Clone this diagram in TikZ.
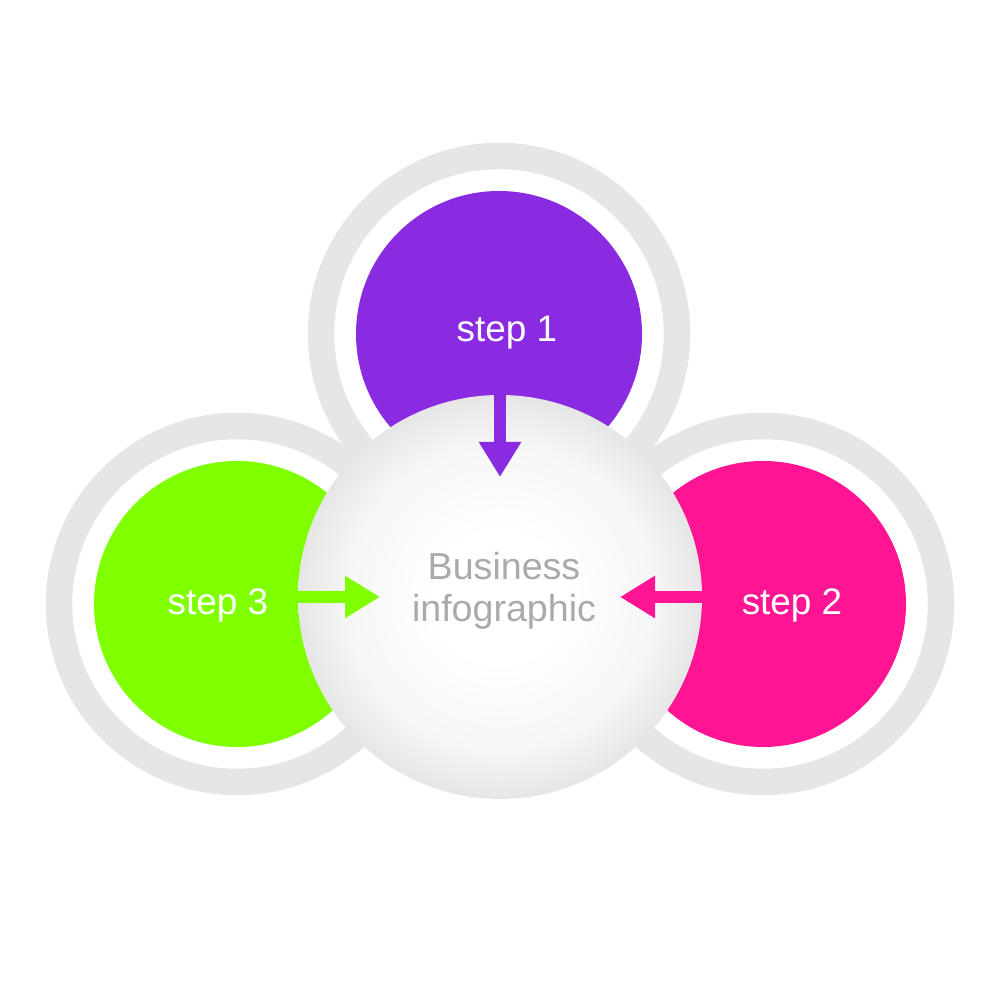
\documentclass[tikz,border=0pt]{standalone}
\usepackage{fontspec}
\setmainfont{Liberation Sans}
\usetikzlibrary{arrows.meta}

\definecolor{stepviolet}{HTML}{8A2BE2}
\definecolor{steplime}{HTML}{7FFF00}
\definecolor{steppink}{HTML}{FF1493}
\definecolor{ringgray}{HTML}{E6E6E6}
\definecolor{hubgray}{HTML}{E6E6E6}
\definecolor{hubmid}{HTML}{F6F6F6}
\definecolor{hubtext}{HTML}{AAAAAA}

\pgfdeclareradialshading{hubshade}{\pgfpoint{0bp}{0bp}}{color(0bp)=(white); color(8bp)=(white); color(19bp)=(hubmid); color(25bp)=(hubgray); color(50bp)=(hubgray)}

\tikzset{
    ring/.style={draw=ringgray, line width=2.65mm, circle, minimum size=3.56cm, inner sep=0pt},
    disc/.style={circle, fill=#1, minimum size=2.86cm, inner sep=0pt},
    steplabel/.style={text=white, font=\fontsize{10.5}{12}\selectfont, anchor=base},
    feed/.style={-{Triangle[length=3.5mm,width=4mm]}, line width=1.2mm, draw=#1},
}

\begin{document}
\begin{tikzpicture}
        \useasboundingbox (0,0) rectangle (10,10);
        \fill[white] (0,0) rectangle (10,10);

        % outer rings
        \node[ring] (r1) at (4.99,6.66) {};
        \node[ring] (r2) at (7.63,3.96) {};
        \node[ring] (r3) at (2.37,3.96) {};

        % coloured discs
        \node[disc=stepviolet] (s1) at (r1) {};
        \node[disc=steppink] (s2) at (r2) {};
        \node[disc=steplime] (s3) at (r3) {};

        % centre
        \node[circle, minimum size=4.04cm, inner sep=0pt, shade, shading=hubshade] (hub) at (5,4.03) {};
        \node[text=hubtext, font=\fontsize{10.7}{12}\selectfont, align=center] (title) at (5.04,4.095) {Business\\infographic};

        \coordinate (t1) at (5,5.23);
        \coordinate (t2) at (6.20,4.03);
        \coordinate (t3) at (3.80,4.03);
        \draw[feed=stepviolet] (hub.north) -- (t1);
        \draw[feed=steppink] (hub.east) -- (t2);
        \draw[feed=steplime] (hub.west) -- (t3);

        \node[steplabel] (l1) at (5.07,6.58) {step 1};
        \node[steplabel] (l2) at (7.92,3.85) {step 2};
        \node[steplabel] (l3) at (2.18,3.85) {step 3};
\end{tikzpicture}
\end{document}
